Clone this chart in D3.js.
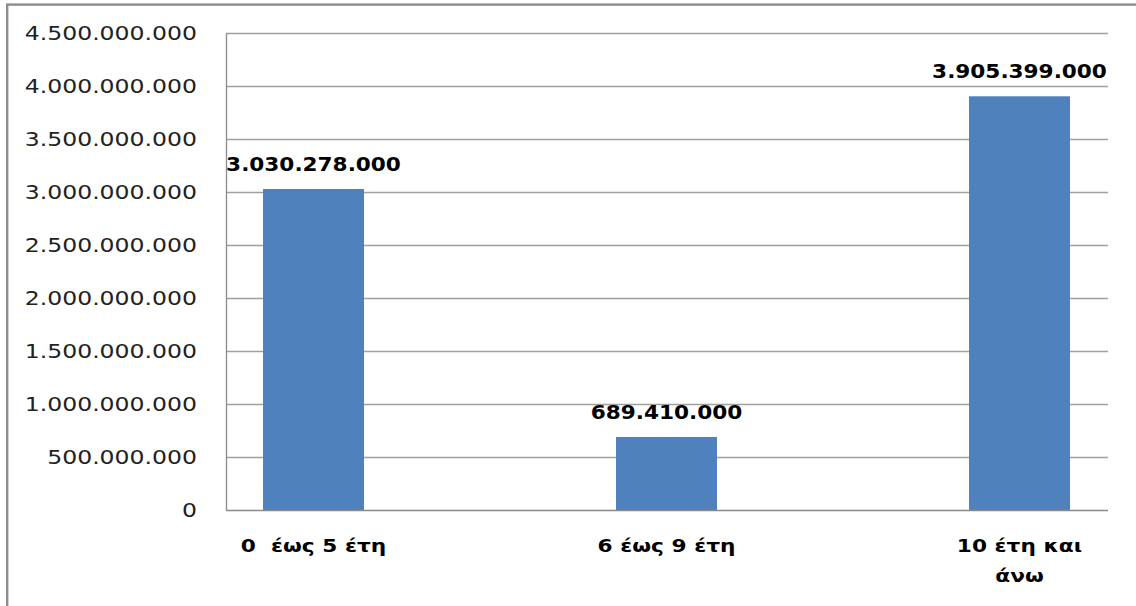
<!DOCTYPE html>
<html>
<head>
<meta charset="utf-8">
<script src="https://cdn.jsdelivr.net/npm/d3@7"></script>
<style>
  html, body { margin: 0; padding: 0; background: #ffffff; }
  svg { display: block; }
  text { font-family: "DejaVu Sans", Verdana, sans-serif; fill: #000; }
</style>
</head>
<body>
<svg id="chart" width="1136" height="606"></svg>
<script>
// ---- data ----
const categories = ["0  έως 5 έτη", "6 έως 9 έτη", "10 έτη και άνω"];
const values = [3030278000, 689410000, 3905399000];
const yTicks = [0, 500000000, 1000000000, 1500000000, 2000000000, 2500000000, 3000000000, 3500000000, 4000000000, 4500000000];
const yMax = 4500000000;

// ---- layout ----
const W = 1136, H = 606;
const plot = { left: 226, right: 1108, top: 33.3, bottom: 510 };
const svg = d3.select("#chart");

const fmt = v => d3.format(",")(v).replace(/,/g, ".");

const y = d3.scaleLinear().domain([0, yMax]).range([plot.bottom, plot.top]);
const x = d3.scaleBand().domain(categories).range([137, 1196]).paddingInner(0.714).paddingOuter(0.357);

// outer border
svg.append("rect")
  .attr("x", 7.2).attr("y", 4.6)
  .attr("width", W + 20).attr("height", H + 20)
  .attr("fill", "#fff").attr("stroke", "#8c8c8c").attr("stroke-width", 2.4);

// gridlines
svg.append("g").selectAll("line").data(yTicks.filter(d => d > 0)).join("line")
  .attr("x1", plot.left).attr("x2", plot.right)
  .attr("y1", d => Math.round(y(d)) + 0.5).attr("y2", d => Math.round(y(d)) + 0.5)
  .attr("stroke", "#a0a0a0").attr("stroke-width", 1.3);

// bars
svg.append("g").selectAll("rect").data(values).join("rect")
  .attr("x", (d, i) => x(categories[i]))
  .attr("width", x.bandwidth())
  .attr("y", d => y(d))
  .attr("height", d => y(0) - y(d))
  .attr("fill", "#4f81bd");

// axes lines
svg.append("line")
  .attr("x1", plot.left + 0.5).attr("x2", plot.left + 0.5)
  .attr("y1", plot.top).attr("y2", plot.bottom + 0.5)
  .attr("stroke", "#8a8a8a").attr("stroke-width", 1.3);
svg.append("line")
  .attr("x1", plot.left).attr("x2", plot.right)
  .attr("y1", Math.round(y(0)) + 0.5).attr("y2", Math.round(y(0)) + 0.5)
  .attr("stroke", "#8a8a8a").attr("stroke-width", 1.3);

// y tick labels (horizontally stretched like the reference)
const kTick = 1.24;
svg.append("g").selectAll("text").data(yTicks).join("text")
  .attr("transform", d => `translate(197, ${y(d) + 7}) scale(${kTick},1)`)
  .attr("text-anchor", "end")
  .style("font-size", "19px")
  .style("fill", "#222")
  .text(d => fmt(d));

// data labels
const kVal = 1.08;
svg.append("g").selectAll("text").data(values).join("text")
  .attr("transform", (d, i) => `translate(${x(categories[i]) + x.bandwidth() / 2}, ${y(d) - 18}) scale(${kVal},1)`)
  .attr("text-anchor", "middle")
  .style("font-size", "20px")
  .style("font-weight", "bold")
  .text(d => fmt(d));

// category labels with wrapping
const kCat = 1.24;
const maxCatWidth = 165;
const catG = svg.append("g");
categories.forEach((c, i) => {
  const t = catG.append("text")
    .attr("transform", `translate(${x(c) + x.bandwidth() / 2}, 552) scale(${kCat},1)`)
    .attr("text-anchor", "middle")
    .style("font-size", "17.5px")
    .style("font-weight", "bold")
    .style("white-space", "pre");
  const probe = t.append("tspan").attr("x", 0).text(c);
  if (probe.node().getComputedTextLength() * kCat > maxCatWidth) {
    probe.remove();
    const words = c.split(" ");
    let lines = [], cur = [];
    words.forEach(w => {
      const test = cur.concat([w]).join(" ");
      const tmp = t.append("tspan").attr("x", 0).text(test);
      const wd = tmp.node().getComputedTextLength() * kCat;
      tmp.remove();
      if (wd > maxCatWidth && cur.length) { lines.push(cur.join(" ")); cur = [w]; }
      else cur.push(w);
    });
    if (cur.length) lines.push(cur.join(" "));
    lines.forEach((ln, j) => {
      t.append("tspan").attr("x", 0).attr("dy", j === 0 ? 0 : 30).text(ln);
    });
  }
});
</script>
</body>
</html>
